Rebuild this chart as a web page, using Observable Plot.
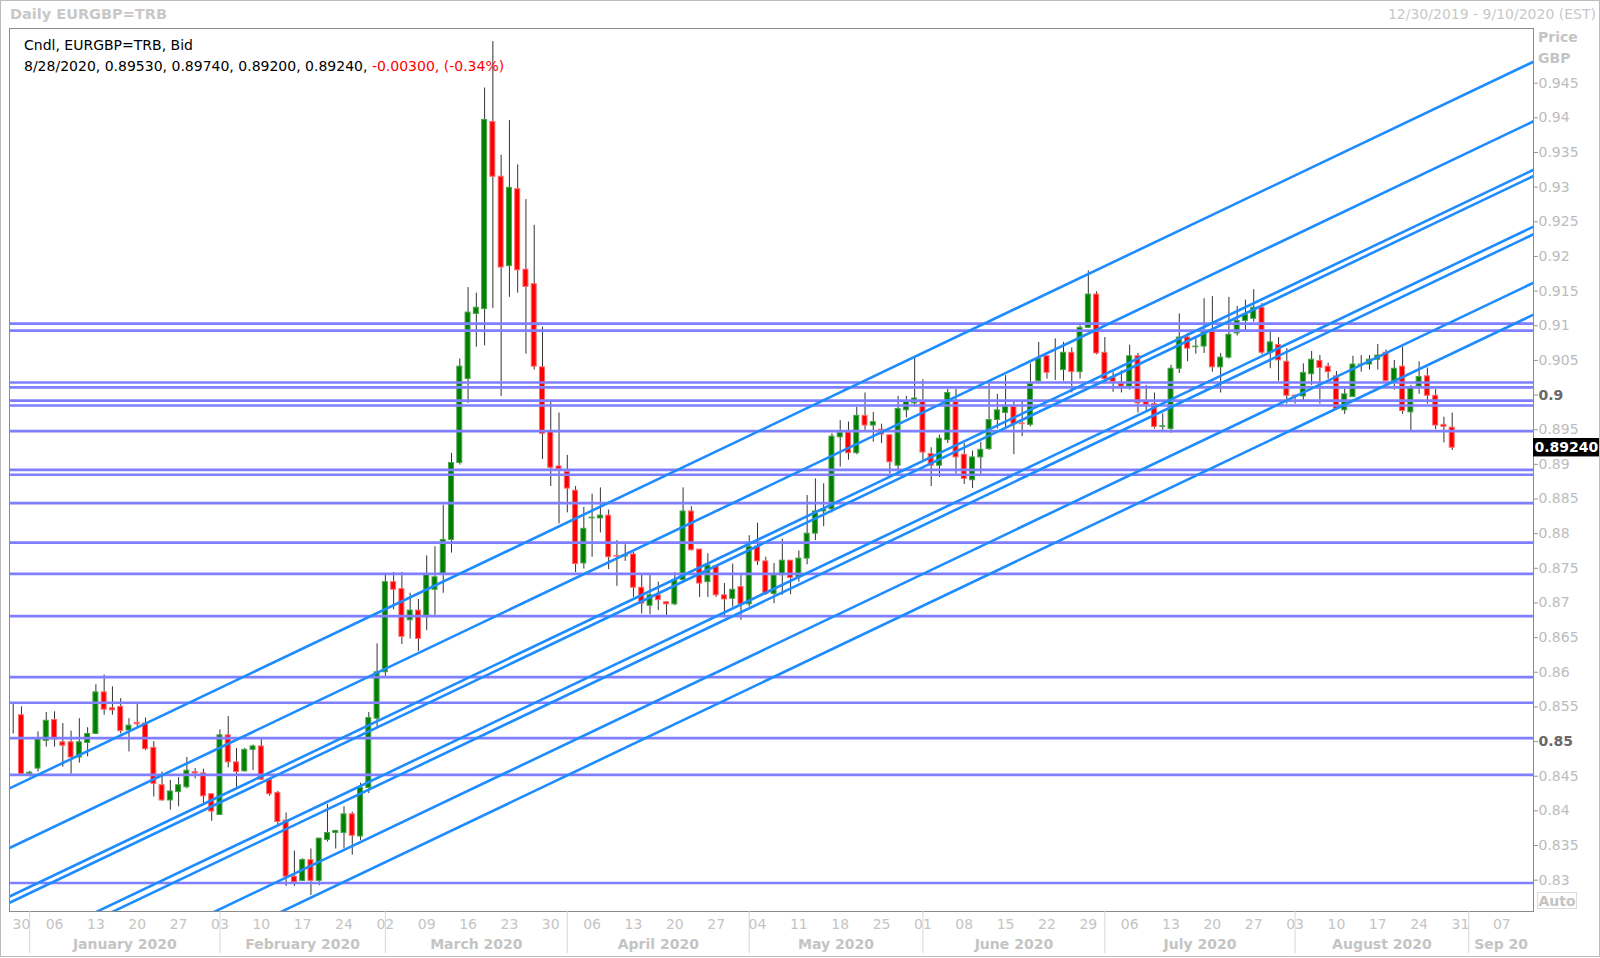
<!DOCTYPE html>
<html><head><meta charset="utf-8">
<script src="https://cdn.jsdelivr.net/npm/d3@7"></script>
<script src="https://cdn.jsdelivr.net/npm/@observablehq/plot@0.6"></script>
<style>
html,body{margin:0;padding:0;background:#fff;}
#wrap{position:relative;width:1600px;height:958px;overflow:hidden;font-family:"DejaVu Sans",Verdana,sans-serif;}
#wrap svg{position:absolute;left:0;top:0;}
.lbl{position:absolute;white-space:nowrap;line-height:1;}
#border{position:absolute;left:0;top:0;width:1600px;height:957px;box-sizing:border-box;border:1px solid #bcbcbc;pointer-events:none;}
</style></head><body><div id="wrap"></div>
<script>
// ---- data (one value per trading day, Dec 27 2019 .. Aug 28 2020) ----
const open = [
0.8542,0.8538,0.8453,0.8461,0.8501,0.8531,0.8499,0.8499,0.8477,0.8498,
0.8511,0.8571,0.8548,0.8550,0.8516,0.8527,0.8526,0.8491,0.8437,0.8415,
0.8427,0.8434,0.8456,0.8454,0.8424,0.8394,0.8509,0.8470,0.8457,0.8488,
0.8493,0.8445,0.8426,0.8386,0.8305,0.8299,0.8329,0.8299,0.8358,0.8368,
0.8368,0.8395,0.8363,0.8433,0.8533,0.8600,0.8730,0.8720,0.8675,0.8689,
0.8680,0.8719,0.8741,0.8791,0.8902,0.9023,0.9117,0.9124,0.9394,0.9315,
0.9186,0.9297,0.9181,0.9160,0.9040,0.8947,0.8897,0.8889,0.8862,0.8757,
0.8822,0.8822,0.8826,0.8768,0.8767,0.8770,0.8722,0.8696,0.8711,0.8701,
0.8698,0.8733,0.8832,0.8777,0.8730,0.8753,0.8711,0.8706,0.8723,0.8698,
0.8781,0.8760,0.8713,0.8740,0.8761,0.8737,0.8764,0.8800,0.8832,0.8835,
0.8939,0.8946,0.8916,0.8970,0.8956,0.8950,0.8942,0.8898,0.8978,0.8988,
0.8990,0.8915,0.8898,0.8935,0.8990,0.8914,0.8877,0.8910,0.8922,0.8964,
0.8974,0.8983,0.8959,0.8957,0.9020,0.9056,0.9034,0.9036,0.9061,0.9033,
0.9097,0.9145,0.9061,0.9025,0.9016,0.9012,0.9056,0.8990,0.8987,0.8954,
0.8951,0.9038,0.9083,0.9069,0.9070,0.9091,0.9040,0.9054,0.9089,0.9107,
0.9110,0.9126,0.9061,0.9072,0.9048,0.8999,0.8998,0.9030,0.9049,0.9041,
0.9027,0.8978,0.8997,0.9043,0.9044,0.9051,0.9061,0.9020,0.9041,0.8975,
0.9012,0.9027,0.8999,0.8957,0.8953];
const high = [
0.8554,0.8550,0.8457,0.8514,0.8542,0.8543,0.8526,0.8515,0.8533,0.8520,
0.8582,0.8596,0.8579,0.8562,0.8533,0.8554,0.8534,0.8500,0.8456,0.8444,
0.8448,0.8477,0.8461,0.8460,0.8424,0.8517,0.8536,0.8490,0.8490,0.8495,
0.8503,0.8447,0.8428,0.8397,0.8342,0.8331,0.8345,0.8360,0.8409,0.8372,
0.8406,0.8398,0.8440,0.8542,0.8641,0.8741,0.8744,0.8744,0.8714,0.8705,
0.8768,0.8781,0.8841,0.8916,0.9052,0.9155,0.9147,0.9443,0.9510,0.9346,
0.9396,0.9332,0.9282,0.9245,0.9098,0.8991,0.8974,0.8913,0.8868,0.8838,
0.8857,0.8866,0.8834,0.8790,0.8784,0.8773,0.8740,0.8740,0.8730,0.8702,
0.8744,0.8866,0.8839,0.8777,0.8771,0.8753,0.8728,0.8756,0.8740,0.8797,
0.8815,0.8766,0.8757,0.8792,0.8761,0.8775,0.8855,0.8879,0.8872,0.8944,
0.8963,0.8961,0.8982,0.9003,0.8975,0.8958,0.8942,0.8998,0.8998,0.9055,
0.9022,0.8924,0.8942,0.9008,0.9008,0.8930,0.8919,0.8932,0.9016,0.9001,
0.9028,0.8990,0.8990,0.9045,0.9076,0.9056,0.9081,0.9076,0.9068,0.9100,
0.9179,0.9149,0.9083,0.9033,0.9035,0.9072,0.9060,0.9014,0.9003,0.8973,
0.9043,0.9117,0.9089,0.9084,0.9139,0.9142,0.9060,0.9141,0.9128,0.9137,
0.9152,0.9132,0.9091,0.9083,0.9067,0.9000,0.9045,0.9063,0.9057,0.9046,
0.9034,0.9009,0.9056,0.9057,0.9057,0.9073,0.9065,0.9050,0.9069,0.9014,
0.9048,0.9039,0.9008,0.8968,0.8974];
const low = [
0.8511,0.8453,0.8449,0.8456,0.8492,0.8492,0.8463,0.8453,0.8469,0.8478,
0.8510,0.8538,0.8538,0.8511,0.8485,0.8521,0.8487,0.8420,0.8414,0.8401,
0.8406,0.8432,0.8446,0.8410,0.8385,0.8394,0.8462,0.8434,0.8456,0.8458,
0.8444,0.8421,0.8379,0.8291,0.8291,0.8298,0.8278,0.8292,0.8355,0.8345,
0.8345,0.8336,0.8357,0.8425,0.8521,0.8594,0.8690,0.8640,0.8648,0.8630,
0.8660,0.8682,0.8714,0.8772,0.8899,0.8988,0.9069,0.9071,0.9125,0.8998,
0.9141,0.9147,0.9059,0.9036,0.8907,0.8868,0.8814,0.8830,0.8744,0.8749,
0.8766,0.8801,0.8748,0.8724,0.8760,0.8708,0.8684,0.8683,0.8689,0.8682,
0.8696,0.8728,0.8775,0.8708,0.8708,0.8708,0.8680,0.8694,0.8675,0.8694,
0.8754,0.8711,0.8699,0.8711,0.8712,0.8730,0.8755,0.8790,0.8810,0.8830,
0.8896,0.8906,0.8914,0.8949,0.8932,0.8930,0.8886,0.8886,0.8967,0.8982,
0.8903,0.8868,0.8881,0.8930,0.8886,0.8871,0.8865,0.8886,0.8920,0.8951,
0.8950,0.8914,0.8940,0.8954,0.9016,0.9023,0.9021,0.9020,0.9003,0.9023,
0.9096,0.9058,0.9016,0.9004,0.9003,0.9007,0.8974,0.8975,0.8951,0.8949,
0.8945,0.9031,0.9048,0.9059,0.9060,0.9033,0.9003,0.9052,0.9085,0.9093,
0.9105,0.9058,0.9038,0.9020,0.8987,0.8987,0.8992,0.9014,0.8987,0.9023,
0.8978,0.8972,0.8997,0.9033,0.9036,0.9036,0.9020,0.9007,0.8972,0.8949,
0.9001,0.8987,0.8950,0.8931,0.8920];
const close = [
0.8542,0.8453,0.8455,0.8503,0.8530,0.8503,0.8494,0.8477,0.8499,0.8511,
0.8571,0.8546,0.8545,0.8515,0.8523,0.8525,0.8489,0.8439,0.8415,0.8428,
0.8437,0.8458,0.8454,0.8421,0.8399,0.8509,0.8470,0.8456,0.8488,0.8493,
0.8445,0.8424,0.8384,0.8305,0.8297,0.8329,0.8299,0.8360,0.8368,0.8371,
0.8395,0.8364,0.8433,0.8534,0.8600,0.8730,0.8719,0.8651,0.8689,0.8648,
0.8741,0.8737,0.8791,0.8902,0.9041,0.9119,0.9126,0.9397,0.9315,0.9184,
0.9299,0.9180,0.9156,0.9041,0.8944,0.8895,0.8893,0.8865,0.8756,0.8807,
0.8823,0.8826,0.8766,0.8767,0.8769,0.8722,0.8699,0.8711,0.8704,0.8698,
0.8733,0.8832,0.8776,0.8728,0.8754,0.8711,0.8705,0.8719,0.8698,0.8781,
0.8760,0.8713,0.8740,0.8761,0.8736,0.8764,0.8800,0.8832,0.8835,0.8940,
0.8945,0.8916,0.8970,0.8956,0.8961,0.8943,0.8903,0.8980,0.8990,0.8995,
0.8917,0.8898,0.8937,0.9003,0.8910,0.8879,0.8910,0.8921,0.8964,0.8978,
0.8983,0.8958,0.8958,0.9016,0.9052,0.9032,0.9034,0.9061,0.9033,0.9097,
0.9145,0.9060,0.9023,0.9019,0.9012,0.9056,0.8988,0.8986,0.8954,0.8955,
0.9038,0.9083,0.9067,0.9070,0.9091,0.9040,0.9054,0.9087,0.9107,0.9116,
0.9126,0.9061,0.9076,0.9050,0.8999,0.8998,0.9032,0.9051,0.9039,0.9033,
0.8980,0.9001,0.9044,0.9044,0.9051,0.9057,0.9020,0.9038,0.8977,0.9011,
0.9026,0.8999,0.8956,0.8954,0.8924];
const lastDate = "8/28/2020";

// horizontal support / resistance levels
const levels = [0.9103,0.9093,0.9018,0.9011,0.8992,0.8985,0.8948,0.8892,0.8885,
  0.8844,0.8787,0.8742,0.8681,0.8593,0.8556,0.8505,0.8452,0.8296];
// rising channel lines: start (trading-day index, price) -> end (index, price)
const trendX1 = [-1,-1,-1,-1,-1,-1,-1,-1];
const trendY1 = [0.84293,0.83433,0.82733,0.82643,0.81913,0.81803,0.81103,0.80643];
const trendX2 = [190,190,190,190,190,190,190,190];
const trendY2 = [0.95161,0.94301,0.93601,0.93511,0.92781,0.92671,0.91971,0.91511];

// axis labels
const priceTicks = [0.83,0.835,0.84,0.845,0.85,0.855,0.86,0.865,0.87,0.875,0.88,0.885,
  0.89,0.895,0.9,0.905,0.91,0.915,0.92,0.925,0.93,0.935,0.94,0.945];
const boldTicks = [0.85,0.9];
const weekLabels = ["30","06","13","20","27","03","10","17","24","02","09","16","23","30",
  "06","13","20","27","04","11","18","25","01","08","15","22","29","06","13","20","27",
  "03","10","17","24","31","07"];
const monthLabels = ["January 2020","February 2020","March 2020","April 2020","May 2020",
  "June 2020","July 2020","August 2020","Sep 20"];
const monthStarts = [2,25,45,67,89,110,132,155,176];

// ---- build ----
const rows = open.map((o, i) => ({i, o, h: high[i], l: low[i], c: close[i]}));
const trends = trendX1.map((x, k) => ({x1: x, y1: trendY1[k], x2: trendX2[k], y2: trendY2[k]}));
const xMin = -0.447, xMax = 183.83;
const weekIdx = weekLabels.map((_, k) => k === 0 ? 1 : 5 * k);
const weekMap = new Map(weekIdx.map((v, k) => [v, weekLabels[k]]));
const bounds = monthStarts.concat([xMax]);
const monthMid = monthStarts.map((s, k) => (s + bounds[k + 1]) / 2);
const monthMap = new Map(monthMid.map((v, k) => [v, monthLabels[k]]));
const lightTicks = priceTicks.filter(t => !boldTicks.includes(t));
const fmt = d => String(+d.toFixed(3));
const fillOf = d => d.c > d.o ? "#007f00" : d.c < d.o ? "#ff0000" : "#000000";
const strokeOf = d => d.c > d.o ? "#4aa44a" : d.c < d.o ? "#ff6a6a" : "#000000";
const last = rows[rows.length - 1];
const prev = rows[rows.length - 2];

const chart = Plot.plot({
  width: 1600, height: 958,
  marginLeft: 9, marginRight: 67, marginTop: 28, marginBottom: 47,
  style: {fontFamily: "DejaVu Sans, Verdana, sans-serif", fontSize: "14px", background: "transparent"},
  x: {type: "linear", domain: [xMin, xMax]},
  y: {type: "linear", domain: [0.82548, 0.95289]},
  marks: [
    Plot.ruleX(rows, {x: "i", y1: "l", y2: "h", stroke: "#333333", strokeWidth: 1}),
    Plot.rect(rows, {x1: d => d.i - 0.3, x2: d => d.i + 0.3, y1: "o", y2: "c",
      fill: fillOf, stroke: strokeOf, strokeWidth: 1}),
    Plot.ruleY(levels, {stroke: "#7f7fff", strokeWidth: 2.6}),
    Plot.link(trends, {x1: "x1", y1: "y1", x2: "x2", y2: "y2", stroke: "#1e8cff",
      strokeWidth: 2.6, clip: true}),
    Plot.frame({stroke: "#8a8a8a"}),
    Plot.axisX({ticks: monthStarts, tickSize: 42, tickFormat: () => "", stroke: "#d6d6d6", label: null}),
    Plot.axisX({ticks: weekIdx, tickSize: 0, tickPadding: 8, tickFormat: d => weekMap.get(d),
      fill: "#c4c4c4", fontSize: 14, label: null}),
    Plot.axisX({ticks: monthMid, tickSize: 0, tickPadding: 28, tickFormat: d => monthMap.get(d),
      fill: "#c4c4c4", fontSize: 14, fontWeight: "bold", label: null}),
    Plot.axisY({anchor: "right", ticks: lightTicks, tickSize: 4, tickPadding: 1, tickFormat: fmt,
      fill: "#bcbcbc", stroke: "#9a9a9a", fontSize: 14, label: null}),
    Plot.axisY({anchor: "right", ticks: boldTicks, tickSize: 4, tickPadding: 1, tickFormat: fmt,
      fill: "#686868", stroke: "#9a9a9a", fontSize: 14, fontWeight: "bold", label: null}),
    Plot.rect([last.c], {x1: xMax, x2: xMax + 8.3, y1: d => d - 0.00133, y2: d => d + 0.00133, fill: "#000"}),
    Plot.text([last.c], {x: xMax, y: d => d, text: d => d.toFixed(5), textAnchor: "start", dx: 1,
      fill: "#fff", fontWeight: "bold", fontSize: 14})
  ]
});

const wrap = document.getElementById("wrap");
wrap.appendChild(chart);
function label(text, css) {
  const el = document.createElement("div");
  el.className = "lbl";
  el.innerHTML = text;
  Object.assign(el.style, css);
  wrap.appendChild(el);
  return el;
}
const chg = last.c - prev.c;
const pct = chg / prev.c * 100;
label("Daily EURGBP=TRB", {left: "10px", top: "7px", fontSize: "14.5px", fontWeight: "bold", color: "#c8c8c8"});
label("12/30/2019 - 9/10/2020 (EST)", {right: "4px", top: "7px", fontSize: "14px", color: "#c8c8c8"});
label("Cndl, EURGBP=TRB, Bid", {left: "24px", top: "38px", fontSize: "14px", color: "#000"});
label(`${lastDate}, ${last.o.toFixed(5)}, ${last.h.toFixed(5)}, ${last.l.toFixed(5)}, ${last.c.toFixed(5)}, ` +
  `<span style="color:#ff0000">${chg.toFixed(5)}, (${pct.toFixed(2)}%)</span>`,
  {left: "24px", top: "59px", fontSize: "14px", color: "#000"});
label("Price", {left: "1538px", top: "30px", fontSize: "14px", fontWeight: "bold", color: "#c4c4c4"});
label("GBP", {left: "1538px", top: "51px", fontSize: "14px", fontWeight: "bold", color: "#c4c4c4"});
label("Auto", {left: "1537px", top: "892px", width: "40px", height: "17px", lineHeight: "17px", textAlign: "center",
  fontSize: "14px", fontWeight: "bold", color: "#c4c4c4", border: "1px solid #dcdcdc", boxSizing: "border-box"});
const b = document.createElement("div"); b.id = "border"; wrap.appendChild(b);
</script></body></html>
